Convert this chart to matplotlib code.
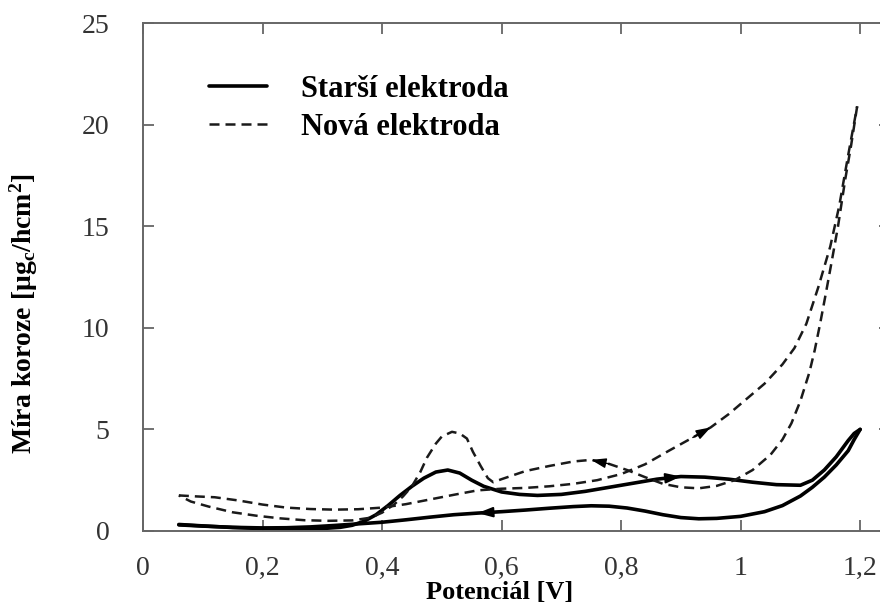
import matplotlib
matplotlib.use("Agg")
from matplotlib import pyplot as plt

plt.rcParams["font.family"] = ["Liberation Serif", "DejaVu Serif"]
plt.rcParams["mathtext.fontset"] = "custom"
plt.rcParams["mathtext.rm"] = "Liberation Serif:bold"
plt.rcParams["mathtext.it"] = "Liberation Serif:bold"
plt.rcParams["mathtext.bf"] = "Liberation Serif:bold"

# Starsi elektroda - anodic (forward) and cathodic (return) sweep
old_fwd_x = [0.06, 0.10, 0.15, 0.20, 0.25, 0.30, 0.33, 0.35, 0.37, 0.39, 0.41, 0.43,
             0.45, 0.47, 0.49, 0.51, 0.53, 0.55, 0.57, 0.60, 0.63, 0.66, 0.70, 0.74,
             0.78, 0.82, 0.86, 0.90, 0.94, 0.98, 1.02, 1.06, 1.10, 1.12, 1.14, 1.16,
             1.18, 1.19, 1.20]
old_fwd_y = [0.32, 0.25, 0.17, 0.12, 0.10, 0.12, 0.18, 0.28, 0.48, 0.80, 1.25, 1.75,
             2.20, 2.60, 2.90, 3.00, 2.85, 2.50, 2.20, 1.92, 1.80, 1.75, 1.80, 1.95,
             2.15, 2.35, 2.55, 2.68, 2.65, 2.55, 2.40, 2.28, 2.25, 2.50, 3.00, 3.65,
             4.45, 4.80, 5.00]
old_ret_x = [1.20, 1.19, 1.18, 1.16, 1.14, 1.12, 1.10, 1.07, 1.04, 1.00, 0.96, 0.93,
             0.90, 0.87, 0.84, 0.81, 0.78, 0.75, 0.72, 0.68, 0.64, 0.60, 0.56, 0.52,
             0.48, 0.44, 0.40, 0.36, 0.32, 0.28, 0.24, 0.20, 0.15, 0.10, 0.06]
old_ret_y = [5.00, 4.50, 3.95, 3.25, 2.65, 2.15, 1.72, 1.25, 0.95, 0.72, 0.62, 0.60,
             0.66, 0.80, 0.98, 1.13, 1.22, 1.24, 1.20, 1.12, 1.03, 0.95, 0.88, 0.80,
             0.68, 0.55, 0.43, 0.35, 0.27, 0.20, 0.16, 0.15, 0.18, 0.24, 0.30]

# Nova elektroda
new_fwd_x = [0.06, 0.09, 0.12, 0.16, 0.20, 0.24, 0.28, 0.32, 0.36, 0.40, 0.44, 0.48,
             0.52, 0.56, 0.60, 0.64, 0.68, 0.72, 0.76, 0.80, 0.84, 0.88, 0.92, 0.95,
             0.98, 1.01, 1.04, 1.07, 1.09, 1.11, 1.13, 1.15, 1.165, 1.18, 1.195]
new_fwd_y = [1.75, 1.70, 1.66, 1.50, 1.30, 1.15, 1.08, 1.05, 1.07, 1.15, 1.32, 1.55,
             1.78, 2.00, 2.08, 2.12, 2.20, 2.32, 2.50, 2.80, 3.28, 3.95, 4.60, 5.10,
             5.75, 6.50, 7.25, 8.20, 9.00, 10.2, 12.0, 14.0, 16.0, 18.5, 20.9]
new_ret_x = [1.195, 1.185, 1.175, 1.163, 1.152, 1.142, 1.133, 1.124, 1.115, 1.10, 1.085,
             1.07, 1.05, 1.02, 0.99, 0.96, 0.93, 0.90, 0.87, 0.84, 0.81, 0.78, 0.75,
             0.72, 0.68, 0.64, 0.60, 0.586, 0.577, 0.565, 0.552, 0.542, 0.53, 0.517,
             0.50, 0.49, 0.475, 0.464, 0.45, 0.435, 0.42, 0.40, 0.38, 0.35, 0.31, 0.27,
             0.23, 0.19, 0.15, 0.11, 0.08, 0.06]
new_ret_y = [20.9, 19.0, 17.3, 15.0, 13.2, 11.6, 10.2, 8.9, 7.8, 6.4, 5.3,
             4.5, 3.75, 3.0, 2.5, 2.22, 2.10, 2.15, 2.32, 2.65, 3.00, 3.30, 3.50,
             3.42, 3.20, 2.95, 2.55, 2.40, 2.60, 3.20, 3.90, 4.55, 4.80, 4.88,
             4.65, 4.30, 3.60, 2.90, 2.20, 1.70, 1.30, 0.90, 0.65, 0.52, 0.50, 0.53,
             0.62, 0.75, 0.92, 1.20, 1.45, 1.75]

x_ticks = [0, 0.2, 0.4, 0.6, 0.8, 1.0, 1.2]
x_tick_labels = ["0", "0,2", "0,4", "0,6", "0,8", "1", "1,2"]
y_ticks = [0, 5, 10, 15, 20, 25]
y_tick_labels = ["0", "5", "10", "15", "20", "25"]

labels = ["Starší elektroda", "Nová elektroda"]


def add_arrow(ax, xs, ys, i, lw):
    # arrow head placed on the curve, pointing along the sweep direction
    ax.annotate("", xy=(xs[i], ys[i]), xytext=(xs[i - 1], ys[i - 1]),
                arrowprops=dict(arrowstyle="-|>,head_length=0.9,head_width=0.3",
                                color="black", lw=lw, shrinkA=0, shrinkB=0,
                                mutation_scale=10))


def produce_graph():
    fig = plt.figure(figsize=(8.8, 6.06), dpi=100)
    ax = fig.add_axes([0.1625, 0.1238, 0.8489, 0.8382])

    dash = (0, (4, 2.4))
    ax.plot(old_fwd_x, old_fwd_y, color="black", lw=2.6, solid_joinstyle="round",
            solid_capstyle="round", label=labels[0])
    ax.plot(old_ret_x, old_ret_y, color="black", lw=2.6, solid_joinstyle="round",
            solid_capstyle="round")
    ax.plot(new_fwd_x, new_fwd_y, color="#1a1a1a", lw=1.8, linestyle=dash,
            label=labels[1])
    ax.plot(new_ret_x, new_ret_y, color="#1a1a1a", lw=1.8, linestyle=dash)

    add_arrow(ax, old_fwd_x, old_fwd_y, old_fwd_x.index(0.90), 1.5)
    add_arrow(ax, old_ret_x, old_ret_y, old_ret_x.index(0.56), 1.5)
    add_arrow(ax, new_fwd_x, new_fwd_y, new_fwd_x.index(0.95), 1.0)
    add_arrow(ax, new_ret_x, new_ret_y, new_ret_x.index(0.75), 1.0)

    ax.set_xlim(0, 1.25)
    ax.set_ylim(0, 25)
    ax.set_xticks(x_ticks)
    ax.set_xticklabels(x_tick_labels)
    ax.set_yticks(y_ticks)
    ax.set_yticklabels(y_tick_labels)

    for s in ax.spines.values():
        s.set_color("#666666")
        s.set_linewidth(1.4)
    ax.tick_params(direction="in", length=8, width=1.3, color="#666666",
                   top=True, right=True, labelsize=20, labelcolor="#333333")
    ax.tick_params(axis="x", pad=18)
    ax.tick_params(axis="y", pad=24)

    ax.set_xlabel("Potenciál [V]", fontsize=19, fontweight="bold")
    ax.xaxis.set_label_coords(0.478, -0.098)
    ax.set_ylabel(r"Míra koroze [μg$_{\mathrm{c}}$/hcm$^{\mathrm{2}}$]", fontsize=20,
                  fontweight="bold")
    ax.yaxis.set_label_coords(-0.138, 0.427)

    ax.legend(loc="upper left", bbox_to_anchor=(0.072, 0.922), frameon=False,
              prop={"weight": "bold", "size": 22}, handlelength=1.9,
              handletextpad=1.1, labelspacing=0.3, borderaxespad=0)

    fig.savefig("out.png", dpi=100)


if __name__ == "__main__":
    produce_graph()
